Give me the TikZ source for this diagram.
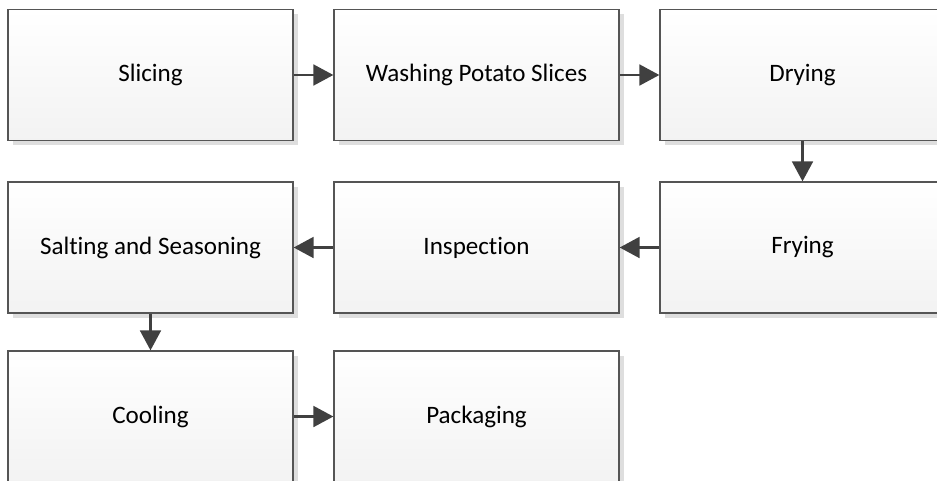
\documentclass[tikz,border=0pt]{standalone}
\usepackage{fontspec}
\setmainfont{Carlito}[Ligatures=NoCommon]
\usepackage{tikz}
\usetikzlibrary{arrows.meta}
\usetikzlibrary{shadows}
\definecolor{boxline}{HTML}{555555}
\definecolor{flowline}{HTML}{404040}
\tikzset{
    stepbox/.style={draw=boxline, line width=0.9pt, rectangle,
        minimum width=213.75pt, minimum height=98.25pt,
        top color=white, bottom color=black!5,
        drop shadow={shadow xshift=3.5pt, shadow yshift=-3.5pt,
            fill=black!13, opacity=1},
        font=\fontsize{18.8}{22}\selectfont},
    flow/.style={draw=flowline, line width=2.2pt,
        -{Triangle[length=15pt, width=15.5pt]}}
}

\begin{document}
\begin{tikzpicture}[x=0.75pt, y=-0.75pt]
\clip (0,0) rectangle (937,480);
\node[stepbox] (slicing) at (150.5,75) {Slicing};
\node[stepbox] (washing) at (476.5,75) {Washing Potato Slices};
\node[stepbox] (drying) at (802.5,75) {Drying};

\node[stepbox] (salting) at (150.5,247.5) {Salting and Seasoning};
\node[stepbox] (inspection) at (476.5,247.5) {Inspection};
\node[stepbox] (frying) at (802.5,247.5) {Frying};

\node[stepbox] (cooling) at (150.5,416.5) {Cooling};
\node[stepbox] (packaging) at (476.5,416.5) {Packaging};

\draw[flow] (slicing) -- (washing);
\draw[flow] (washing) -- (drying);
\draw[flow] (drying) -- (frying);
\draw[flow] (frying) -- (inspection);
\draw[flow] (inspection) -- (salting);
\draw[flow] (salting) -- (cooling);
\draw[flow] (cooling) -- (packaging);
\end{tikzpicture}
\end{document}
